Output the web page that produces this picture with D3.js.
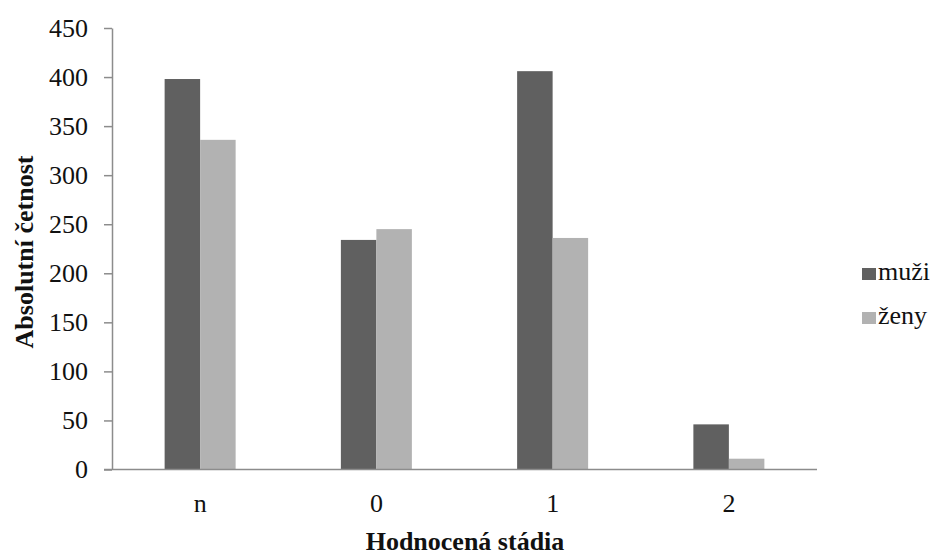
<!DOCTYPE html>
<html><head><meta charset="utf-8">
<script src="https://cdn.jsdelivr.net/npm/d3@7"></script>
<style>body{margin:0;background:#fff}svg{display:block}</style>
</head><body>
<script>
const categories = ["n", "0", "1", "2"];
const seriesNames = ["muži", "ženy"];
const muzi = [398, 234, 406, 46];
const zeny = [336, 245, 236, 11];
const yTicks = [0, 50, 100, 150, 200, 250, 300, 350, 400, 450];
const colors = ["#606060", "#b2b2b2"];

const W = 939, H = 556;
const m = {left: 112, right: 122, top: 28, bottom: 86.5};
const svg = d3.select("body").append("svg").attr("width", W).attr("height", H);
const font = "'Liberation Serif', 'Times New Roman', serif";

const x = d3.scaleBand().domain(categories).range([m.left, W - m.right]).padding(0);
const y = d3.scaleLinear().domain([0, 450]).range([H - m.bottom, m.top]);
const groupW = 71;
const xs = d3.scaleBand().domain(seriesNames).range([0, groupW]).padding(0);

const data = [muzi, zeny];
seriesNames.forEach((s, si) => {
  svg.append("g").selectAll("rect").data(categories).join("rect")
    .attr("x", c => x(c) + (x.bandwidth() - groupW) / 2 + xs(s))
    .attr("width", xs.bandwidth())
    .attr("y", (c, i) => y(data[si][i]))
    .attr("height", (c, i) => y(0) - y(data[si][i]))
    .attr("fill", colors[si]);
});

// y axis
const ya = svg.append("g").attr("transform", `translate(${m.left},0)`)
  .call(d3.axisLeft(y).tickValues(yTicks).tickSize(8).tickPadding(16).tickSizeOuter(0));
ya.select(".domain").attr("stroke", "#8c8c8c").attr("stroke-width", 1.5);
ya.selectAll(".tick line").attr("stroke", "#8c8c8c").attr("stroke-width", 1.5);
ya.selectAll("text").attr("font-family", font).attr("font-size", 26).attr("fill", "#111");

// x axis
const xa = svg.append("g").attr("transform", `translate(0,${y(0)})`)
  .call(d3.axisBottom(x).tickSize(0).tickPadding(24).tickSizeOuter(0));
xa.select(".domain").attr("d", `M${m.left - 8},0H${W - m.right}`).attr("stroke", "#8c8c8c").attr("stroke-width", 1.5);
xa.selectAll("text").attr("font-family", font).attr("font-size", 26).attr("fill", "#111");

// titles
svg.append("text").attr("x", 465).attr("y", 550)
  .attr("text-anchor", "middle").attr("font-family", font).attr("font-weight", "bold")
  .attr("font-size", 26).attr("fill", "#111").text("Hodnocená stádia");
svg.append("text").attr("transform", `translate(33,252) rotate(-90)`)
  .attr("text-anchor", "middle").attr("font-family", font).attr("font-weight", "bold")
  .attr("font-size", 26).attr("fill", "#111").text("Absolutní četnost");

// legend
const lg = svg.append("g");
seriesNames.forEach((s, i) => {
  const base = 280 + i * 44;
  lg.append("rect").attr("x", 862).attr("y", base - 12).attr("width", 14).attr("height", 12).attr("fill", colors[i]);
  lg.append("text").attr("x", 878).attr("y", base).attr("font-family", font).attr("font-size", 26)
    .attr("fill", "#111").text(s);
});
</script>
</body></html>
